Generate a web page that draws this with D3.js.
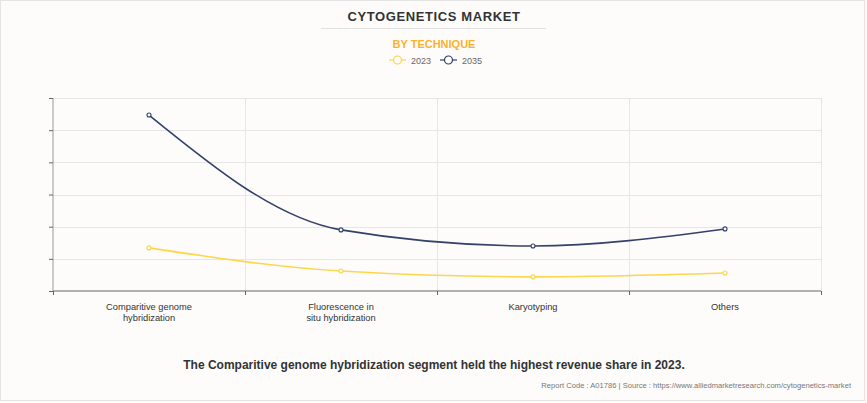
<!DOCTYPE html>
<html><head><meta charset="utf-8">
<script src="https://cdn.jsdelivr.net/npm/d3@7"></script>
<style>
html,body{margin:0;padding:0;background:#fdfcfa;}
svg{display:block;}
</style></head>
<body>
<svg id="chart" width="867" height="403"></svg>
<script>
const categories = ["Comparitive genome\nhybridization", "Fluorescence in\nsitu hybridization", "Karyotyping", "Others"];
const seriesNames = ["2023", "2035"];
const values2023 = [1.34, 0.62, 0.44, 0.56];
const values2035 = [5.47, 1.9, 1.4, 1.93];
const yTicks = [0, 1, 2, 3, 4, 5, 6];
const colors = ["#fdd64b", "#33426b"];

(function () {
const svg = d3.select("#chart");
const W = 867, H = 403;
svg.append("rect").attr("x", 0.5).attr("y", 0.5).attr("width", W - 3).attr("height", H - 3)
  .attr("fill", "#fdfcfa").attr("stroke", "#e4e4e4");

const pL = 53, pR = 821, pT = 98, pB = 291;
const x = d3.scaleBand().domain(categories).range([pL, pR]).paddingInner(0).paddingOuter(0);
const y = d3.scaleLinear().domain([0, 6]).range([pB, pT]);

// title
svg.append("text").attr("x", 434).attr("y", 21).attr("text-anchor", "middle")
  .attr("font-family", "Arial, Liberation Sans, sans-serif").attr("font-weight", "bold")
  .attr("font-size", 13).attr("fill", "#333").attr("letter-spacing", 0.6).text("CYTOGENETICS MARKET");
svg.append("line").attr("x1", 321).attr("x2", 546).attr("y1", 28.5).attr("y2", 28.5).attr("stroke", "#e0e0e0");
svg.append("text").attr("x", 434).attr("y", 48).attr("text-anchor", "middle")
  .attr("font-family", "Arial, Liberation Sans, sans-serif").attr("font-weight", "bold")
  .attr("font-size", 11).attr("fill", "#fbb12f").text("BY TECHNIQUE");

// legend
const legX = [389, 440];
seriesNames.forEach((s, i) => {
  const g = svg.append("g").attr("transform", `translate(${legX[i]},60)`);
  g.append("line").attr("x1", 0).attr("x2", 17).attr("stroke", colors[i]).attr("stroke-width", 1.2);
  g.append("circle").attr("cx", 8.5).attr("cy", 0).attr("r", 4).attr("fill", "#fdfcfa").attr("stroke", colors[i]).attr("stroke-width", 1.2);
  g.append("text").attr("x", 22).attr("y", 3.5).attr("font-family", "Arial, Liberation Sans, sans-serif")
    .attr("font-size", 9).attr("fill", "#666").text(s);
});

// grid horizontal
svg.append("g").selectAll("line").data(yTicks.slice(1)).join("line")
  .attr("x1", pL).attr("x2", pR).attr("y1", d => Math.round(y(d)) + 0.5).attr("y2", d => Math.round(y(d)) + 0.5)
  .attr("stroke", "#e6e6e6");
// grid vertical
const bounds = categories.map(c => x(c)).concat([pR]);
svg.append("g").selectAll("line").data(bounds.slice(1)).join("line")
  .attr("x1", d => Math.round(d) + 0.5).attr("x2", d => Math.round(d) + 0.5).attr("y1", pT).attr("y2", pB)
  .attr("stroke", "#e6e6e6");

// y axis
const yAxis = svg.append("g").attr("transform", `translate(${pL},0)`)
  .call(d3.axisLeft(y).tickValues(yTicks).tickSize(4).tickFormat(""));
yAxis.select(".domain").attr("stroke", "#999").attr("d", `M0,${pT}V${pB}`);
yAxis.selectAll(".tick line").attr("stroke", "#666");

// x axis
const xAxis = svg.append("g").attr("transform", `translate(0,${pB})`)
  .call(d3.axisBottom(x).tickSize(0).tickFormat(""));
xAxis.select(".domain").attr("stroke", "#999").attr("stroke-width", 1.5).attr("d", `M${pL},0H${pR}`);
xAxis.selectAll(".tickmark").data(bounds).join("line").attr("class", "tickmark")
  .attr("x1", d => Math.round(d) + 0.5).attr("x2", d => Math.round(d) + 0.5).attr("y1", 0).attr("y2", 4).attr("stroke", "#666");

// x labels
categories.forEach(c => {
  const lines = c.split("\n");
  const t = svg.append("text").attr("text-anchor", "middle")
    .attr("font-family", "Liberation Sans, Arial, sans-serif").attr("font-size", 9.3).attr("fill", "#333");
  lines.forEach((l, i) => {
    t.append("tspan").attr("x", x(c) + x.bandwidth() / 2).attr("y", 310 + i * 10.8).text(l);
  });
});

// lines
const cx = c => x(c) + x.bandwidth() / 2;
const line = d3.line().x(d => cx(d.c)).y(d => y(d.v)).curve(d3.curveMonotoneX);
[values2023, values2035].forEach((vals, i) => {
  const data = categories.map((c, j) => ({ c, v: vals[j] }));
  svg.append("path").datum(data).attr("d", line).attr("fill", "none").attr("stroke", colors[i]).attr("stroke-width", 1.6);
  svg.append("g").selectAll("circle").data(data).join("circle")
    .attr("cx", d => cx(d.c)).attr("cy", d => y(d.v)).attr("r", 2)
    .attr("fill", "#fdfcfa").attr("stroke", colors[i]).attr("stroke-width", 1.1);
});

// caption
svg.append("text").attr("x", 434).attr("y", 369).attr("text-anchor", "middle")
  .attr("font-family", "Arial, Liberation Sans, sans-serif").attr("font-weight", "bold")
  .attr("font-size", 12).attr("fill", "#333")
  .text("The Comparitive genome hybridization segment held the highest revenue share in 2023.");
svg.append("text").attr("x", 851).attr("y", 388).attr("text-anchor", "end")
  .attr("font-family", "Arial, Liberation Sans, sans-serif")
  .attr("font-size", 7.6).attr("fill", "#777")
  .text("Report Code : A01786  |  Source : https://www.alliedmarketresearch.com/cytogenetics-market");
})();
</script>
</body></html>
